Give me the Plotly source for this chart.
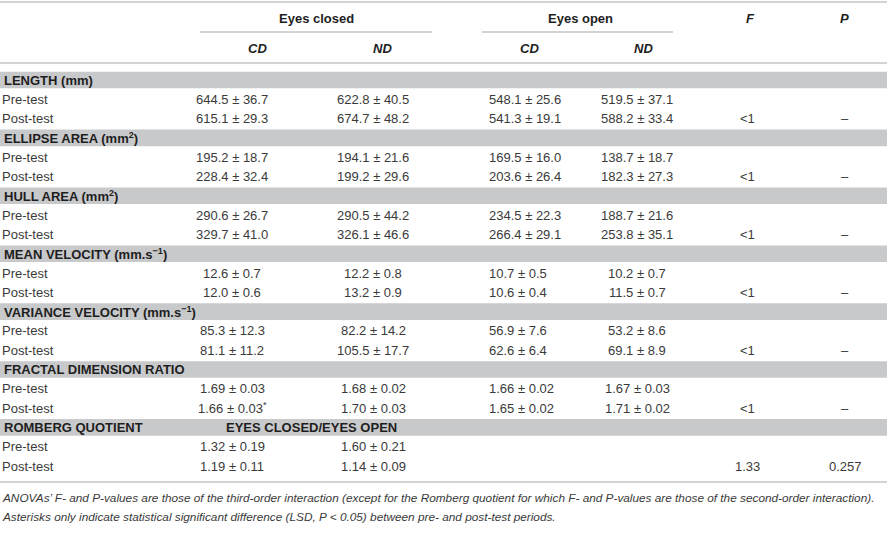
import plotly.graph_objects as go

# group labels (band rows)
groups = ["LENGTH (mm)", "ELLIPSE AREA (mm<sup>2</sup>)", "HULL AREA (mm<sup>2</sup>)",
          "MEAN VELOCITY (mm.s<sup>−1</sup>)", "VARIANCE VELOCITY (mm.s<sup>−1</sup>)",
          "FRACTAL DIMENSION RATIO", "ROMBERG QUOTIENT"]
periods = ["Pre-test", "Post-test"]
decimals = [1, 1, 1, 1, 1, 2, 2]

# mean / sd, pre and post for each group
ec_cd_mean = [644.5, 615.1, 195.2, 228.4, 290.6, 329.7, 12.6, 12.0, 85.3, 81.1, 1.69, 1.66, 1.32, 1.19]
ec_cd_sd = [36.7, 29.3, 18.7, 32.4, 26.7, 41.0, 0.7, 0.6, 12.3, 11.2, 0.03, 0.03, 0.19, 0.11]
ec_nd_mean = [622.8, 674.7, 194.1, 199.2, 290.5, 326.1, 12.2, 13.2, 82.2, 105.5, 1.68, 1.70, 1.60, 1.14]
ec_nd_sd = [40.5, 48.2, 21.6, 29.6, 44.2, 46.6, 0.8, 0.9, 14.2, 17.7, 0.02, 0.03, 0.21, 0.09]
eo_cd_mean = [548.1, 541.3, 169.5, 203.6, 234.5, 266.4, 10.7, 10.6, 56.9, 62.6, 1.66, 1.65]
eo_cd_sd = [25.6, 19.1, 16.0, 26.4, 22.3, 29.1, 0.5, 0.4, 7.6, 6.4, 0.02, 0.02]
eo_nd_mean = [519.5, 588.2, 138.7, 182.3, 188.7, 253.8, 10.2, 11.5, 53.2, 69.1, 1.67, 1.71]
eo_nd_sd = [37.1, 33.4, 18.7, 27.3, 21.6, 35.1, 0.7, 0.7, 8.6, 8.9, 0.03, 0.02]
ec_cd_signif = [11]  # asterisk (fractal, post-test)
f_vals = ["&lt;1", "&lt;1", "&lt;1", "&lt;1", "&lt;1", "&lt;1", "1.33"]
p_vals = ["–", "–", "–", "–", "–", "–", "0.257"]

notes = [
    "ANOVAs’ F- and P-values are those of the third-order interaction (except for the Romberg quotient for which F- and P-values are those of the second-order interaction).",
    "Asterisks only indicate statistical significant difference (LSD, P &lt; 0.05) between pre- and post-test periods.",
]

W, H = 887, 543
y0, step = 80, 19.3
TXT = "#3a3a3a"
HEAD = "#1e1e1e"
BAND = "#c8c9cb"
LINE = "#c4c4c4"
FONT = "Liberation Sans, Arial, sans-serif"


def fmt(m, s, d, star=False):
    t = f"{m:.{d}f} ± {s:.{d}f}"
    if star:
        t += "<sup>*</sup>"
    return t


fig = go.Figure()
shapes = []
ann = []


def text(x, y, t, anchor="center", bold=False, italic=False, color=TXT, size=13, family=FONT):
    if bold:
        t = "<b>" + t + "</b>"
    if italic:
        t = "<i>" + t + "</i>"
    ann.append(dict(x=x, y=y, xref="x", yref="y", text=t, showarrow=False,
                    xanchor=anchor, yanchor="middle",
                    font=dict(family=family, size=size, color=color)))


# header
shapes.append(dict(type="line", x0=0, x1=W, y0=2, y1=2, line=dict(color=LINE, width=1.5)))
text(316, 18, "Eyes closed", bold=True, color=HEAD)
text(580, 18, "Eyes open", bold=True, color=HEAD)
shapes.append(dict(type="line", x0=200, x1=432, y0=32, y1=32, line=dict(color=LINE, width=1.5)))
shapes.append(dict(type="line", x0=482, x1=673, y0=32, y1=32, line=dict(color=LINE, width=1.5)))
text(750, 18, "F", bold=True, italic=True, color=HEAD)
text(844, 18, "P", bold=True, italic=True, color=HEAD)
for x, lab in zip([257, 382, 529, 643], ["CD", "ND", "CD", "ND"]):
    text(x, 48, lab, bold=True, italic=True, color=HEAD)
shapes.append(dict(type="line", x0=0, x1=W, y0=63, y1=63, line=dict(color=LINE, width=1.5)))

for g, name in enumerate(groups):
    yb = y0 + step * 3 * g
    shapes.append(dict(type="rect", x0=0, x1=W, y0=yb - 8.3, y1=yb + 8.3,
                       fillcolor=BAND, line=dict(width=0), layer="below"))
    text(2, yb, name, anchor="left", bold=True, color=HEAD)
    if g == len(groups) - 1:
        text(311, yb, "EYES CLOSED/EYES OPEN", bold=True, color=HEAD)
    d = decimals[g]
    for k, per in enumerate(periods):
        i = 2 * g + k
        y = yb + step * (k + 1)
        text(0, y, per, anchor="left")
        text(232, y, fmt(ec_cd_mean[i], ec_cd_sd[i], d, i in ec_cd_signif))
        text(373, y, fmt(ec_nd_mean[i], ec_nd_sd[i], d))
        if i < len(eo_cd_mean):
            text(487, y, fmt(eo_cd_mean[i], eo_cd_sd[i], d), anchor="left")
            text(637, y, fmt(eo_nd_mean[i], eo_nd_sd[i], d))
        if k == 1:
            text(747, y, f_vals[g])
            text(845, y, p_vals[g])

ybot = y0 + step * 20 + 16
shapes.append(dict(type="line", x0=0, x1=W, y0=ybot, y1=ybot, line=dict(color=LINE, width=1.5)))
for j, n in enumerate(notes):
    text(0, ybot + 16 + 19 * j, n, anchor="left", italic=True, size=11.8)

fig.update_layout(
    width=W, height=H,
    margin=dict(l=0, r=0, t=0, b=0),
    paper_bgcolor="white", plot_bgcolor="white",
    xaxis=dict(range=[0, W], visible=False, fixedrange=True),
    yaxis=dict(range=[H, 0], visible=False, fixedrange=True),
    shapes=shapes, annotations=ann,
    showlegend=False,
)

# drop the default page margin so the table sits at the window's corner
fig.write_html("out.html", config={"displayModeBar": False},
               post_script="document.body.style.margin='0';")
